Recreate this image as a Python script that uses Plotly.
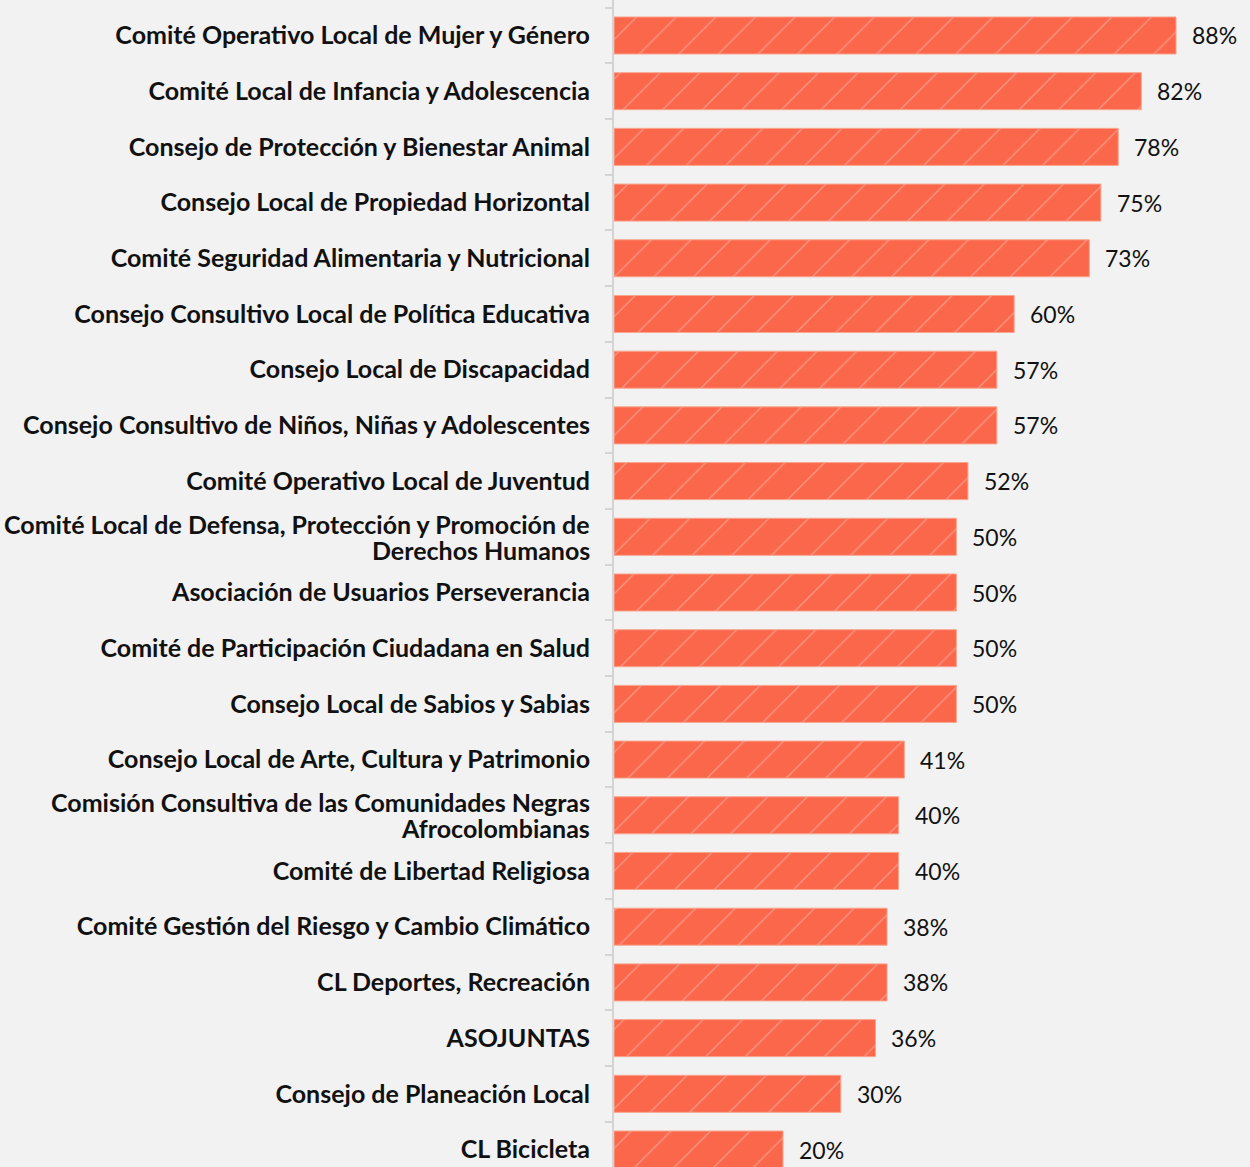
import plotly.graph_objects as go

categories = [
    "Comité Operativo Local de Mujer y Género",
    "Comité Local de Infancia y Adolescencia",
    "Consejo de Protección y Bienestar Animal",
    "Consejo Local de Propiedad Horizontal",
    "Comité Seguridad Alimentaria y Nutricional",
    "Consejo Consultivo Local de Política Educativa",
    "Consejo Local de Discapacidad",
    "Consejo Consultivo de Niños, Niñas y Adolescentes",
    "Comité Operativo Local de Juventud",
    "Comité Local de Defensa, Protección y Promoción de Derechos Humanos",
    "Asociación de Usuarios Perseverancia",
    "Comité de Participación Ciudadana en Salud",
    "Consejo Local de Sabios y Sabias",
    "Consejo Local de Arte, Cultura y Patrimonio",
    "Comisión Consultiva de las Comunidades Negras Afrocolombianas",
    "Comité de Libertad Religiosa",
    "Comité Gestión del Riesgo y Cambio Climático",
    "CL Deportes, Recreación",
    "ASOJUNTAS",
    "Consejo de Planeación Local",
    "CL Bicicleta",
]
values = [88, 82, 78, 75, 73, 60, 57, 57, 52, 50, 50, 50, 50, 41, 40, 40, 38, 38, 36, 30, 20]

# long names are wrapped onto two tightly spaced lines
wrapped = {
    "Comité Local de Defensa, Protección y Promoción de Derechos Humanos":
        ["Comité Local de Defensa, Protección y Promoción de", "Derechos Humanos"],
    "Comisión Consultiva de las Comunidades Negras Afrocolombianas":
        ["Comisión Consultiva de las Comunidades Negras", "Afrocolombianas"],
}

X_START = -9.24
X_END = 100.8
LABEL_FONT = dict(family="Lato", size=25, color="#111111", weight="bold")

fig = go.Figure()
fig.add_trace(go.Bar(
    y=categories,
    x=[v - X_START for v in values],
    base=X_START,
    orientation="h",
    width=0.665,
    marker=dict(
        color="#FB674A",
        line=dict(color="#F9A58F", width=1),
        pattern=dict(shape="/", size=28, solidity=0.05,
                     fgcolor="rgba(255,255,255,0.6)"),
    ),
    hoverinfo="skip",
))

for c, v in zip(categories, values):
    fig.add_annotation(
        x=v, y=c, text=f"{v}%", showarrow=False,
        xanchor="left", yanchor="middle", xshift=14,
        font=dict(family="Lato", size=23, color="#111111"),
    )

for c, lines in wrapped.items():
    for i, line in enumerate(lines):
        fig.add_annotation(
            x=0, xref="paper", y=c, text=line, showarrow=False,
            xanchor="right", yanchor="middle", xshift=-22,
            yshift=13 - 26 * i, font=LABEL_FONT,
        )

ticktext = ["" if c in wrapped else c for c in categories]

fig.update_layout(
    width=1250, height=1167,
    margin=dict(l=614, r=0, t=0, b=0),
    paper_bgcolor="#F2F2F2",
    plot_bgcolor="#F2F2F2",
    showlegend=False,
)
fig.update_xaxes(range=[X_START, X_END], visible=False, showgrid=False, zeroline=False)
fig.update_yaxes(
    type="category",
    range=[20.314, -0.637],
    tickmode="array", tickvals=categories, ticktext=ticktext,
    tickson="boundaries",
    ticks="outside", ticklen=7, tickwidth=2, tickcolor="#D4D4D4",
    showline=True, linecolor="#D4D4D4", linewidth=2,
    showgrid=False, zeroline=False,
    ticklabelstandoff=17,
    tickfont=LABEL_FONT,
)

fig.write_html("out.html")
